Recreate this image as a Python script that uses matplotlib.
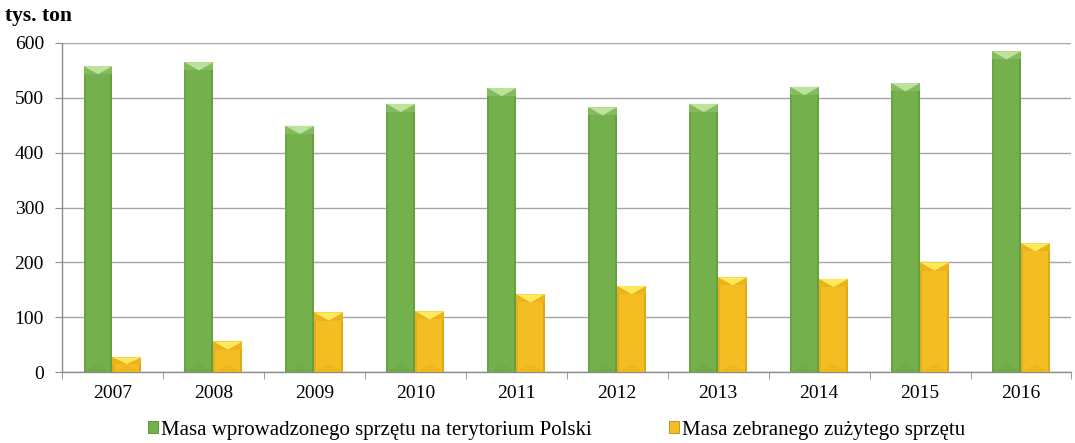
import matplotlib
matplotlib.use("Agg")
import matplotlib.pyplot as plt
from matplotlib.patches import Polygon, Rectangle
import numpy as np

years = ["2007", "2008", "2009", "2010", "2011", "2012", "2013", "2014", "2015", "2016"]
introduced = [558, 565, 449, 489, 518, 483, 489, 520, 527, 585]
collected = [27, 56, 109, 111, 142, 157, 173, 170, 200, 235]

label_introduced = "Masa wprowadzonego sprzętu na terytorium Polski"
label_collected = "Masa zebranego zużytego sprzętu"

plt.rcParams["font.family"] = ["Liberation Serif", "DejaVu Serif"]

green_body, green_band, green_top, green_edge = "#74b04c", "#84bb5c", "#bde29e", "#4f8a30"
yellow_body, yellow_band, yellow_top, yellow_edge = "#f4bd22", "#eab21c", "#fde95c", "#c08a10"

fig = plt.figure(figsize=(10.75, 4.43), dpi=100)
ax = fig.add_axes([0.0577, 0.160, 0.939, 0.743])

x = np.arange(len(years))
w = 0.287

bars_g = ax.bar(x - w / 2, introduced, w, color=green_body, edgecolor="none", zorder=3)
bars_y = ax.bar(x + w / 2, collected, w, color=yellow_body, edgecolor="none", zorder=3)


def bevel(bars, band_col, top_col, edge_col):
    for b in bars:
        x0, wd, h = b.get_x(), b.get_width(), b.get_height()
        bh = min(15, h * 0.45)
        # top band with a lighter chevron
        ax.add_patch(Rectangle((x0, h - bh), wd, bh, facecolor=band_col,
                               edgecolor="none", zorder=4))
        ax.add_patch(Polygon([(x0, h), (x0 + wd, h), (x0 + wd * 0.5, h - bh)],
                             closed=True, facecolor=top_col, edgecolor="none", zorder=5))
        # soft side shading
        ax.add_patch(Rectangle((x0, 0), wd * 0.07, h - bh, facecolor=edge_col,
                               alpha=0.3, edgecolor="none", zorder=4))
        ax.add_patch(Rectangle((x0 + wd * 0.93, 0), wd * 0.07, h - bh, facecolor=edge_col,
                               alpha=0.4, edgecolor="none", zorder=4))
        # faint bottom chevron
        ax.add_patch(Polygon([(x0, 0), (x0 + wd, 0), (x0 + wd * 0.5, bh)],
                             closed=True, facecolor=edge_col, alpha=0.12,
                             edgecolor="none", zorder=4))


bevel(bars_g, green_band, green_top, green_edge)
bevel(bars_y, yellow_band, yellow_top, yellow_edge)

ax.set_xlim(-0.5, len(years) - 0.5)
ax.set_ylim(0, 600)
ax.set_yticks(range(0, 601, 100))
ax.set_xticks(x)
ax.set_xticklabels(years)
ax.set_xticks(np.arange(-0.5, len(years), 1), minor=True)
ax.tick_params(axis="x", which="major", length=0, pad=9, labelsize=14)
ax.tick_params(axis="x", which="minor", length=5, color="#8c8c8c", direction="out")
ax.tick_params(axis="y", length=5, color="#8c8c8c", labelsize=14, pad=8)

ax.grid(axis="y", color="#a6a6a6", linewidth=1.0, zorder=0)
ax.set_axisbelow(True)
for s in ("top", "right"):
    ax.spines[s].set_visible(False)
for s in ("left", "bottom"):
    ax.spines[s].set_color("#8c8c8c")
    ax.spines[s].set_linewidth(1.0)

fig.text(0.005, 0.963, "tys. ton", fontsize=15.5, fontweight="bold", va="center", ha="left")

handles = [Rectangle((0, 0), 1, 1, facecolor=green_body, edgecolor=green_edge, linewidth=0.6),
           Rectangle((0, 0), 1, 1, facecolor=yellow_body, edgecolor=yellow_edge, linewidth=0.6)]
fig.legend(handles, [label_introduced, label_collected], loc="center",
           bbox_to_anchor=(0.518, 0.029), ncol=2, frameon=False, fontsize=15,
           handlelength=0.48, handleheight=0.48, handletextpad=0.15, columnspacing=3.7,
           borderaxespad=0, borderpad=0)

fig.savefig("out.png", dpi=100)
